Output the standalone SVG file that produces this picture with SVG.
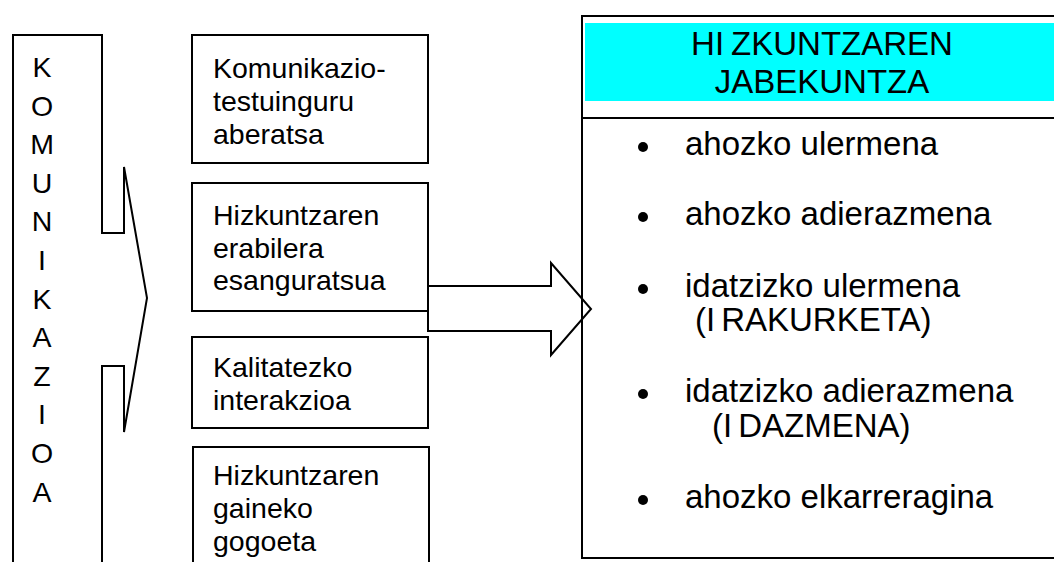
<svg xmlns="http://www.w3.org/2000/svg" width="1054" height="562" viewBox="0 0 1054 562">
<style>
.ln{fill:none;stroke:#000;stroke-width:2}
.box{fill:#fff;stroke:#000;stroke-width:2}
.t{font-family:"Liberation Sans",Arial,sans-serif;fill:#000}
.l{font-size:28.5px}
.r{font-size:33px}
</style>
<rect width="1054" height="562" fill="#fff"/>
<g id="komunikazioa">
<path class="ln" d="M13,575 V35 H102 V233 H124 V167 L147,298 L124,432 V366 H102 V575"/>
<g class="t l" text-anchor="middle">
<text x="42" y="77">K</text>
<text x="42" y="115.6">O</text>
<text x="42" y="154.2">M</text>
<text x="42" y="192.8">U</text>
<text x="42" y="231.4">N</text>
<text x="42" y="270">I</text>
<text x="42" y="308.6">K</text>
<text x="42" y="347.2">A</text>
<text x="42" y="385.8">Z</text>
<text x="42" y="424.4">I</text>
<text x="42" y="463">O</text>
<text x="42" y="501.6">A</text>
</g>
</g>
<g id="box1">
<rect class="box" x="192" y="35" width="236" height="128"/>
<text class="t l" x="213" y="78">Komunikazio-</text>
<text class="t l" x="213" y="111">testuinguru</text>
<text class="t l" x="213" y="144">aberatsa</text>
</g>
<g id="box2">
<rect class="box" x="192" y="183" width="236" height="128"/>
<text class="t l" x="213" y="225">Hizkuntzaren</text>
<text class="t l" x="213" y="258">erabilera</text>
<text class="t l" x="213" y="290">esanguratsua</text>
</g>
<g id="box3">
<rect class="box" x="192" y="337" width="236" height="91"/>
<text class="t l" x="213" y="377">Kalitatezko</text>
<text class="t l" x="213" y="410">interakzioa</text>
</g>
<g id="box4">
<rect class="box" x="193" y="447" width="236" height="130"/>
<text class="t l" x="213" y="485">Hizkuntzaren</text>
<text class="t l" x="213" y="518">gaineko</text>
<text class="t l" x="213" y="551">gogoeta</text>
</g>
<g id="connectors">
<path class="box" d="M428,286 H551 V263 L591,309 L551,355 V331 H428 Z"/>
</g>
<g id="jabekuntza">
<rect class="ln" x="582" y="16" width="480" height="542"/>
<rect x="585" y="23" width="475" height="78" fill="#00ffff"/>
<line class="ln" x1="582" y1="118" x2="1060" y2="118"/>
<text class="t r" x="822" y="55" text-anchor="middle">HI<tspan dx="7">ZKUNTZAREN</tspan></text>
<text class="t r" x="822" y="93" text-anchor="middle">JABEKUNTZA</text>
<g fill="#000">
<circle cx="643" cy="147" r="5"/>
<circle cx="643" cy="217" r="5"/>
<circle cx="643" cy="289" r="5"/>
<circle cx="643" cy="394" r="5"/>
<circle cx="643" cy="500" r="5"/>
</g>
<text class="t r" x="685" y="155">ahozko ulermena</text>
<text class="t r" x="685" y="225">ahozko adierazmena</text>
<text class="t r" x="685" y="297">idatzizko ulermena</text>
<text class="t r" x="695" y="331">(I<tspan dx="6">RAKURKETA)</tspan></text>
<text class="t r" x="685" y="402">idatzizko adierazmena</text>
<text class="t r" x="712" y="437">(I<tspan dx="6">DAZMENA)</tspan></text>
<text class="t r" x="685" y="508">ahozko elkarreragina</text>
</g>
</svg>
